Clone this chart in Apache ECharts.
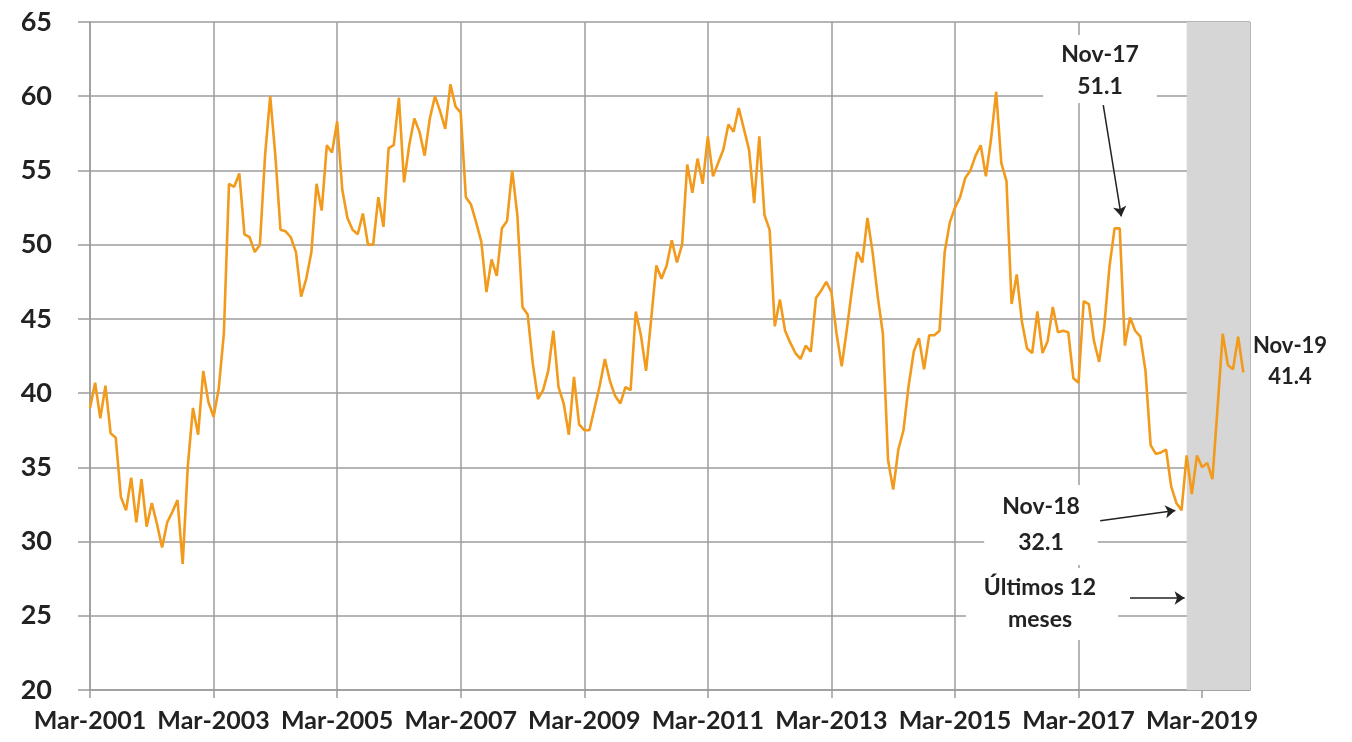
<!DOCTYPE html>
<html>
<head>
<meta charset="utf-8">
<script src="https://cdn.jsdelivr.net/npm/echarts@6/dist/echarts.min.js"></script>
<style>
  html, body { margin: 0; padding: 0; background: #fff; }
  #chart { width: 1352px; height: 742px; }
</style>
</head>
<body>
<div id="chart"></div>
<script>
// x labels, one every 24 months starting Mar-2001
const tickLabels = ['Mar-2001', 'Mar-2003', 'Mar-2005', 'Mar-2007', 'Mar-2009',
  'Mar-2011', 'Mar-2013', 'Mar-2015', 'Mar-2017', 'Mar-2019'];

// monthly values, Mar-2001 .. Nov-2019
const values = [
  39.0, 40.7, 38.3, 40.5, 37.3, 37.0, 33.0, 32.1, 34.3, 31.3,
  34.2, 31.0, 32.6, 31.2, 29.6, 31.3, 32.0, 32.8, 28.5, 35.1,
  39.0, 37.2, 41.5, 39.4, 38.4, 40.3, 44.0, 54.1, 53.9, 54.8,
  50.7, 50.5, 49.5, 50.0, 56.0, 60.0, 56.0, 51.0, 50.9, 50.5,
  49.5, 46.5, 47.7, 49.5, 54.1, 52.3, 56.7, 56.2, 58.3, 53.7,
  51.8, 51.0, 50.7, 52.1, 50.0, 50.0, 53.2, 51.2, 56.5, 56.7,
  59.9, 54.2, 56.7, 58.5, 57.6, 56.0, 58.5, 60.0, 59.0, 57.8,
  60.8, 59.3, 58.9, 53.2, 52.7, 51.5, 50.2, 46.8, 49.0, 47.9,
  51.1, 51.6, 55.0, 52.0, 45.8, 45.3, 42.0, 39.6, 40.2, 41.5,
  44.2, 40.4, 39.3, 37.2, 41.1, 37.9, 37.5, 37.5, 39.0, 40.5,
  42.3, 40.8, 39.8, 39.3, 40.4, 40.2, 45.5, 43.9, 41.5, 45.0,
  48.6, 47.7, 48.6, 50.3, 48.8, 50.0, 55.4, 53.5, 55.8, 54.1,
  57.3, 54.6, 55.5, 56.4, 58.1, 57.6, 59.2, 57.8, 56.4, 52.8,
  57.3, 52.0, 51.0, 44.5, 46.3, 44.2, 43.4, 42.7, 42.3, 43.2,
  42.8, 46.4, 46.9, 47.5, 46.8, 44.0, 41.8, 44.3, 47.0, 49.5,
  48.8, 51.8, 49.5, 46.5, 44.0, 35.5, 33.5, 36.2, 37.5, 40.5,
  42.8, 43.7, 41.6, 43.9, 43.9, 44.2, 49.5, 51.5, 52.5, 53.2,
  54.5, 55.0, 56.0, 56.7, 54.6, 57.1, 60.3, 55.5, 54.3, 46.0,
  48.0, 44.8, 43.0, 42.7, 45.5, 42.7, 43.5, 45.8, 44.1, 44.2,
  44.1, 41.0, 40.7, 46.2, 46.0, 43.5, 42.1, 44.5, 48.5, 51.1,
  51.1, 43.2, 45.1, 44.2, 43.8, 41.5, 36.5, 35.9, 36.0, 36.2,
  33.7, 32.6, 32.1, 35.8, 33.2, 35.8, 35.0, 35.3, 34.2, 39.0,
  44.0, 41.9, 41.6, 43.8, 41.4
];

// last 12 months shading (Dec-2018 onward), month index
const shadeStart = 213;
const xMax = 225.3;

// arrows: [tail, head] in [month index, value]
const arrows = [
  [[196.8, 59.4], [200.3, 51.9]],   // Nov-17
  [[196.2, 31.4], [210.8, 32.1]],   // Nov-18
  [[202.0, 26.2], [212.6, 26.2]]    // Últimos 12 meses
];

const chart = echarts.init(document.getElementById('chart'));
const gridColor = '#9c9c9c';
const textColor = '#222';

chart.setOption({
  backgroundColor: '#fff',
  animation: false,
  grid: { left: 90, right: 102, top: 22, bottom: 52 },
  xAxis: {
    type: 'value',
    min: 0, max: xMax, interval: 24,
    axisLine: { lineStyle: { color: gridColor, width: 1.5 } },
    axisTick: { show: true, length: 8, lineStyle: { color: gridColor, width: 1.5 } },
    splitLine: { show: true, lineStyle: { color: gridColor, width: 1.5 } },
    axisLabel: {
      margin: 18, color: textColor, fontFamily: 'Lato', fontWeight: 'bold', fontSize: 25,
      showMaxLabel: false,
      formatter: v => (v % 24 === 0 && tickLabels[v / 24]) ? tickLabels[v / 24] : ''
    }
  },
  yAxis: {
    type: 'value',
    min: 20, max: 65, interval: 5,
    axisLine: { show: true, lineStyle: { color: gridColor, width: 1.5 } },
    axisTick: { show: true, length: 12, lineStyle: { color: gridColor, width: 1.5 } },
    splitLine: { show: true, lineStyle: { color: gridColor, width: 1.5 } },
    axisLabel: { margin: 38, color: textColor, fontFamily: 'Lato', fontWeight: 'bold', fontSize: 27 }
  },
  series: [
    {
      type: 'line', z: 1, data: [], silent: true,
      markArea: {
        silent: true,
        itemStyle: { color: '#d6d6d6', opacity: 1 },
        data: [[{ xAxis: shadeStart }, { xAxis: xMax }]]
      }
    },
    {
      type: 'line', z: 3,
      data: values.map((v, i) => [i, v]),
      showSymbol: false,
      lineStyle: { color: '#f29a1c', width: 2.6 },
      itemStyle: { color: '#f29a1c' }
    },
    {
      type: 'line', z: 4, data: [], silent: true,
      markLine: {
        silent: true,
        symbol: ['none', 'arrow'],
        symbolSize: 10,
        label: { show: false },
        lineStyle: { color: '#222', width: 1.5, type: 'solid' },
        data: arrows.map(a => [{ coord: a[0] }, { coord: a[1] }])
      }
    }
  ],
  graphic: [
    {
      type: 'text', z: 100, x: 1100, y: 35,
      style: {
        text: 'Nov-17\n51.1', align: 'center', verticalAlign: 'top',
        font: 'bold 23px Lato', fill: textColor, lineHeight: 32,
        backgroundColor: '#fff', padding: [4, 18, 0, 18]
      }
    },
    {
      type: 'text', z: 100, x: 1041, y: 485,
      style: {
        text: 'Nov-18\n32.1', align: 'center', verticalAlign: 'top',
        font: 'bold 23px Lato', fill: textColor, lineHeight: 36,
        backgroundColor: '#fff', padding: [4, 18, 4, 18]
      }
    },
    {
      type: 'text', z: 100, x: 1042, y: 568,
      style: {
        text: 'Últimos 12\nmeses', align: 'center', verticalAlign: 'top',
        font: 'bold 23px Lato', fill: textColor, lineHeight: 32,
        backgroundColor: '#fff', padding: [4, 22, 4, 18]
      }
    },
    {
      type: 'text', z: 100, x: 1290, y: 330,
      style: {
        text: 'Nov-19\n41.4', align: 'center', verticalAlign: 'top',
        font: 'bold 22px Lato', fill: textColor, lineHeight: 31
      }
    }
  ]
});
</script>
</body>
</html>
